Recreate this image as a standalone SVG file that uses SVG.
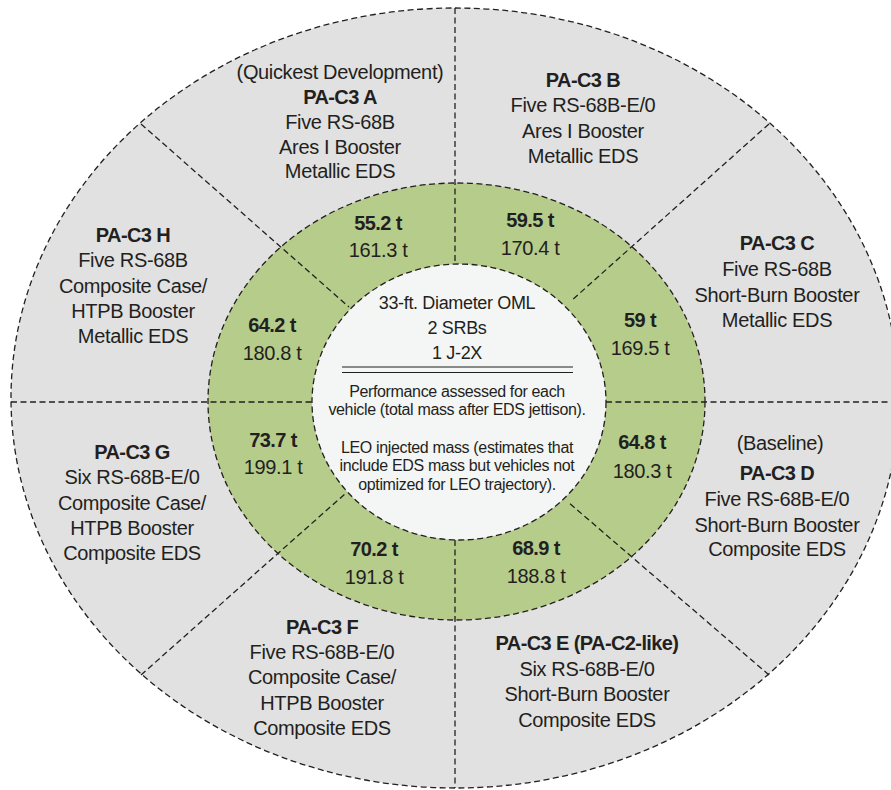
<svg xmlns="http://www.w3.org/2000/svg" width="891" height="790" viewBox="0 0 891 790">
<style>
.dash{fill:none;stroke:#231f20;stroke-width:1.3;stroke-dasharray:6 3.5}
text{font-family:"Liberation Sans",Arial,sans-serif;fill:#231f20;text-anchor:middle}
.t{font-size:20px;letter-spacing:-0.35px}
.b{font-size:20px;font-weight:bold;letter-spacing:-0.6px}
.c{font-size:18px;letter-spacing:-0.35px}
.s{font-size:16px;letter-spacing:-0.35px}
</style>
<rect width="891" height="790" fill="#ffffff"/>
<g id="rings">
<ellipse cx="455" cy="398" rx="444" ry="390" fill="#e1e1e1" class="dash" style="fill:#e1e1e1"/>
<ellipse cx="456.5" cy="401.5" rx="248.5" ry="218.5" class="dash" style="fill:#b6cc8b"/>
<ellipse cx="459" cy="402" rx="147" ry="138" class="dash" style="fill:#f4f6f5"/>
</g>
<g id="connectors">
<line class="dash" x1="455" y1="8" x2="455" y2="264"/>
<line class="dash" x1="455" y1="540" x2="455" y2="788"/>
<line class="dash" x1="11" y1="402" x2="312" y2="402"/>
<line class="dash" x1="606" y1="402" x2="891" y2="402"/>
<line class="dash" x1="141" y1="124" x2="349" y2="307"/>
<line class="dash" x1="769" y1="124" x2="571" y2="301"/>
<line class="dash" x1="141" y1="675" x2="346" y2="493"/>
<line class="dash" x1="769" y1="675" x2="568" y2="502"/>
</g>
<g id="center">
<text class="c" x="457" y="309">33-ft. Diameter OML</text>
<text class="c" x="457" y="334">2 SRBs</text>
<text class="c" x="457" y="359">1 J-2X</text>
<line x1="342" y1="367" x2="573" y2="367" stroke="#231f20" stroke-width="1.2"/>
<line x1="342" y1="372.5" x2="573" y2="372.5" stroke="#231f20" stroke-width="1.2"/>
<text class="s" x="457" y="397">Performance assessed for each</text>
<text class="s" x="457" y="415">vehicle (total mass after EDS jettison).</text>
<text class="s" x="457" y="453">LEO injected mass (estimates that</text>
<text class="s" x="457" y="471">include EDS mass but vehicles not</text>
<text class="s" x="457" y="490">optimized for LEO trajectory).</text>
</g>
<g id="node-a">
<text class="t" x="340" y="79">(Quickest Development)</text>
<text class="b" x="340" y="104">PA-C3 A</text>
<text class="t" x="340" y="129">Five RS-68B</text>
<text class="t" x="340" y="154">Ares I Booster</text>
<text class="t" x="340" y="178">Metallic EDS</text>
<text class="b" x="378" y="230">55.2 t</text>
<text class="t" x="378" y="257">161.3 t</text>
</g>
<g id="node-b">
<text class="b" x="583" y="87">PA-C3 B</text>
<text class="t" x="583" y="112">Five RS-68B-E/0</text>
<text class="t" x="583" y="138">Ares I Booster</text>
<text class="t" x="583" y="163">Metallic EDS</text>
<text class="b" x="530" y="227">59.5 t</text>
<text class="t" x="530" y="255">170.4 t</text>
</g>
<g id="node-c">
<text class="b" x="777" y="250">PA-C3 C</text>
<text class="t" x="777" y="276">Five RS-68B</text>
<text class="t" x="777" y="302">Short-Burn Booster</text>
<text class="t" x="777" y="327">Metallic EDS</text>
<text class="b" x="640" y="327">59 t</text>
<text class="t" x="640" y="355">169.5 t</text>
</g>
<g id="node-d">
<text class="t" x="780" y="450">(Baseline)</text>
<text class="b" x="777" y="480">PA-C3 D</text>
<text class="t" x="777" y="506">Five RS-68B-E/0</text>
<text class="t" x="777" y="532">Short-Burn Booster</text>
<text class="t" x="777" y="556">Composite EDS</text>
<text class="b" x="642" y="449">64.8 t</text>
<text class="t" x="642" y="478">180.3 t</text>
</g>
<g id="node-e">
<text class="b" x="587" y="650">PA-C3 E (PA-C2-like)</text>
<text class="t" x="587" y="676">Six RS-68B-E/0</text>
<text class="t" x="587" y="701">Short-Burn Booster</text>
<text class="t" x="587" y="727">Composite EDS</text>
<text class="b" x="536" y="555">68.9 t</text>
<text class="t" x="536" y="583">188.8 t</text>
</g>
<g id="node-f">
<text class="b" x="322" y="634">PA-C3 F</text>
<text class="t" x="322" y="659">Five RS-68B-E/0</text>
<text class="t" x="322" y="684">Composite Case/</text>
<text class="t" x="322" y="710">HTPB Booster</text>
<text class="t" x="322" y="735">Composite EDS</text>
<text class="b" x="374" y="556">70.2 t</text>
<text class="t" x="374" y="584">191.8 t</text>
</g>
<g id="node-g">
<text class="b" x="132" y="459">PA-C3 G</text>
<text class="t" x="132" y="484">Six RS-68B-E/0</text>
<text class="t" x="132" y="510">Composite Case/</text>
<text class="t" x="132" y="535">HTPB Booster</text>
<text class="t" x="132" y="560">Composite EDS</text>
<text class="b" x="273" y="447">73.7 t</text>
<text class="t" x="273" y="474">199.1 t</text>
</g>
<g id="node-h">
<text class="b" x="133" y="242">PA-C3 H</text>
<text class="t" x="133" y="267">Five RS-68B</text>
<text class="t" x="133" y="293">Composite Case/</text>
<text class="t" x="133" y="318">HTPB Booster</text>
<text class="t" x="133" y="343">Metallic EDS</text>
<text class="b" x="272" y="332">64.2 t</text>
<text class="t" x="272" y="360">180.8 t</text>
</g>
</svg>
